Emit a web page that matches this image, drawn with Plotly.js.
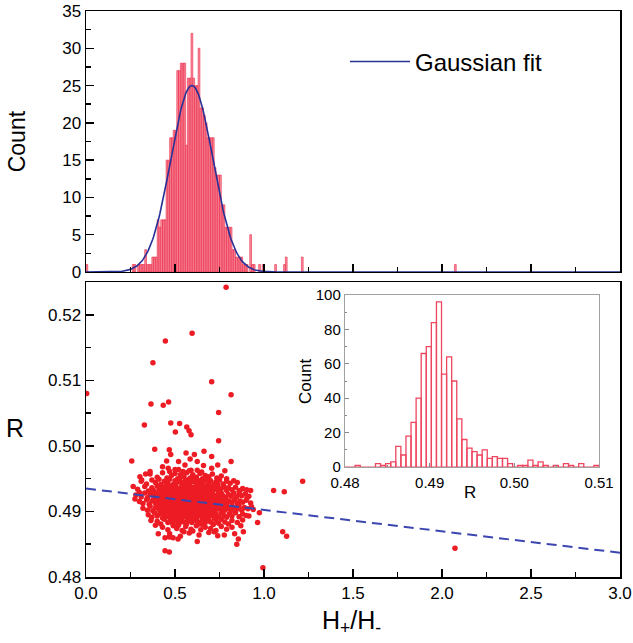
<!DOCTYPE html>
<html>
<head>
<meta charset="utf-8">
<script src="https://cdn.plot.ly/plotly-3.0.1.min.js"></script>
<style>html,body{margin:0;padding:0;background:#fff;}#chart{width:633px;height:643px;}</style>
</head>
<body>
<div id="chart"></div>
<script>
// ---------- Top panel: histogram of H+/H- ----------
const topBinWidth = 0.01;
const topBinLeft = [0.00,0.26,0.27,0.29,0.30,0.31,0.32,0.33,0.34,0.35,0.36,0.37,0.38,0.39,
  0.40,0.41,0.42,0.43,0.44,0.45,0.46,0.47,0.48,0.49,0.50,
  0.51,0.52,0.53,0.54,0.55,0.56,0.57,0.58,0.59,0.60,0.61,0.62,0.63,0.64,0.65,0.66,0.67,0.68,0.69,0.70,
  0.71,0.72,0.73,0.74,0.75,0.76,0.77,0.78,0.79,0.80,0.81,0.82,0.83,0.84,0.85,0.86,0.87,0.88,0.89,0.90,
  0.92,0.93,0.94,0.97,0.99,1.06,1.11,1.12,1.21,2.07];
const topCounts = [1,1,1,1,1,1,1,3,1,1,1,2,2,2,
  7,6,7,7,7,15,15,18,18,19,19,
  27,27,28,28,28,17,26,26,32,26,25,25,30,22,22,21,20,18,18,18,
  18,14,13,13,13,9,9,6,6,6,6,3,3,2,2,2,2,1,1,1,
  5,1,1,1,1,1,1,2,2,1];

// Gaussian fit parameters
const gaussCenter = 0.595;
const gaussSigma = 0.118;
const gaussAmp = 25;

// ---------- Bottom panel: R vs H+/H- ----------
const scatterPts = [
 // outliers
 [0.787,0.5242],[0.596,0.5172],[0.446,0.5160],[0.376,0.5127],[0.706,0.5098],[0.004,0.5080],
 [0.365,0.5064],[0.464,0.5067],[0.434,0.5062],[0.815,0.5078],[0.745,0.5051],[0.328,0.5032],
 [0.476,0.5035],[0.526,0.5034],[0.566,0.5029],[0.579,0.5023],[0.590,0.5017],[0.502,0.5021],
 [0.745,0.5008],[0.386,0.4995],[0.257,0.4977],[0.815,0.4976],[1.217,0.4946],[1.054,0.4932],
 [1.114,0.4930],[0.865,0.4932],[0.903,0.4933],[0.925,0.4932],[0.275,0.4919],[0.974,0.4898],
 [0.964,0.4883],[1.105,0.4869],[1.127,0.4862],[0.884,0.4869],[0.856,0.4858],[0.847,0.4850],
 [0.994,0.4814],[0.444,0.4840],[0.468,0.4838],[0.444,0.4860],[0.468,0.4861],[0.489,0.4860],
 [0.406,0.4866],[0.517,0.4858],[0.625,0.4854],[0.777,0.4864],[2.073,0.4844],
 // upper scattered part of the cloud
 [0.468,0.4994],[0.476,0.4987],[0.562,0.4989],[0.609,0.4987],[0.663,0.4992],[0.706,0.4984],
 [0.520,0.4976],[0.556,0.4971],[0.453,0.4977],[0.462,0.4966],[0.706,0.4966],[0.625,0.4976],
 [0.360,0.4961],[0.303,0.4953],[0.313,0.4948],[0.740,0.4971],[0.585,0.4980],[0.660,0.4970],
 [0.500,0.4964],[0.545,0.4961],[0.590,0.4963],[0.650,0.4960],[0.430,0.4968],[0.780,0.4962],
 [0.335,0.4957],[0.850,0.4944],[0.905,0.4921],[0.940,0.4903],[0.915,0.4893],[0.365,0.4886],
 [0.390,0.4879],[0.870,0.4878],[0.835,0.4866],[0.300,0.4929],[0.265,0.4938],
 // 0.4950-0.4960
 [0.36,0.4957],[0.40,0.4952],[0.43,0.4959],[0.455,0.4951],[0.48,0.4955],[0.50,0.4958],[0.515,0.4950],
 [0.53,0.4956],[0.55,0.4953],[0.565,0.4959],[0.585,0.4951],[0.60,0.4956],[0.62,0.4952],[0.64,0.4958],
 [0.655,0.4950],[0.67,0.4955],[0.69,0.4953],[0.71,0.4957],[0.735,0.4951],[0.76,0.4954],[0.79,0.4950],
 [0.47,0.4961],[0.58,0.4962],[0.625,0.4963],[0.52,0.4964],
 // 0.4940-0.4950
 [0.31,0.4946],[0.34,0.4942],[0.37,0.4948],[0.39,0.4944],[0.41,0.4949],[0.42,0.4941],[0.44,0.4946],
 [0.46,0.4943],[0.47,0.4949],[0.49,0.4941],[0.50,0.4947],[0.51,0.4944],[0.525,0.4949],[0.54,0.4942],
 [0.555,0.4946],[0.57,0.4948],[0.58,0.4941],[0.595,0.4945],[0.61,0.4949],[0.62,0.4943],[0.635,0.4947],
 [0.65,0.4941],[0.66,0.4946],[0.675,0.4949],[0.69,0.4943],[0.70,0.4947],[0.72,0.4941],[0.73,0.4945],
 [0.75,0.4948],[0.77,0.4942],[0.79,0.4946],[0.81,0.4943],[0.83,0.4947],[0.45,0.4940],[0.56,0.4940],
 [0.68,0.4940],[0.60,0.4949],[0.53,0.4945],[0.64,0.4944],[0.74,0.4941],
 // 0.4930-0.4940
 [0.29,0.4934],[0.33,0.4938],[0.35,0.4931],[0.37,0.4936],[0.38,0.4932],[0.40,0.4939],[0.41,0.4933],
 [0.43,0.4937],[0.44,0.4930],[0.45,0.4935],[0.465,0.4939],[0.475,0.4932],[0.485,0.4936],[0.495,0.4931],
 [0.505,0.4938],[0.515,0.4934],[0.525,0.4930],[0.535,0.4937],[0.545,0.4933],[0.555,0.4939],[0.565,0.4931],
 [0.575,0.4935],[0.585,0.4938],[0.595,0.4932],[0.605,0.4936],[0.615,0.4930],[0.625,0.4939],[0.635,0.4933],
 [0.645,0.4937],[0.655,0.4931],[0.665,0.4935],[0.675,0.4938],[0.685,0.4932],[0.695,0.4936],[0.705,0.4930],
 [0.715,0.4939],[0.725,0.4934],[0.735,0.4937],[0.745,0.4931],[0.76,0.4935],[0.775,0.4938],[0.79,0.4932],
 [0.80,0.4936],[0.82,0.4933],[0.84,0.4937],[0.86,0.4931],[0.88,0.4935],[0.47,0.4934],[0.53,0.4935],
 [0.59,0.4934],[0.63,0.4935],[0.67,0.4933],[0.71,0.4935],[0.55,0.4932],[0.61,0.4937],
 // 0.4920-0.4930
 [0.28,0.4925],[0.31,0.4922],[0.33,0.4928],[0.345,0.4921],[0.36,0.4926],[0.375,0.4929],[0.385,0.4923],
 [0.395,0.4927],[0.405,0.4921],[0.415,0.4925],[0.425,0.4929],[0.435,0.4922],[0.445,0.4926],[0.455,0.4920],
 [0.46,0.4928],[0.47,0.4924],[0.48,0.4921],[0.49,0.4927],[0.50,0.4923],[0.51,0.4929],[0.52,0.4925],
 [0.53,0.4921],[0.54,0.4927],[0.55,0.4923],[0.56,0.4929],[0.57,0.4925],[0.58,0.4920],[0.59,0.4927],
 [0.60,0.4923],[0.61,0.4929],[0.62,0.4925],[0.63,0.4921],[0.64,0.4927],[0.65,0.4923],[0.66,0.4929],
 [0.67,0.4925],[0.68,0.4921],[0.69,0.4927],[0.70,0.4923],[0.71,0.4928],[0.72,0.4924],[0.73,0.4920],
 [0.74,0.4926],[0.75,0.4922],[0.76,0.4928],[0.77,0.4924],[0.785,0.4921],[0.80,0.4926],[0.815,0.4923],
 [0.83,0.4928],[0.845,0.4922],[0.86,0.4926],[0.875,0.4924],[0.895,0.4927],[0.915,0.4923],[0.515,0.4922],
 [0.565,0.4926],[0.615,0.4924],[0.665,0.4922],[0.545,0.4925],[0.595,0.4924],[0.645,0.4926],[0.695,0.4925],
 [0.435,0.4926],[0.745,0.4929],
 // 0.4910-0.4920
 [0.30,0.4915],[0.32,0.4912],[0.34,0.4918],[0.355,0.4911],[0.37,0.4916],[0.38,0.4919],[0.39,0.4913],
 [0.40,0.4917],[0.41,0.4910],[0.42,0.4915],[0.43,0.4919],[0.44,0.4912],[0.45,0.4916],[0.46,0.4911],
 [0.47,0.4918],[0.48,0.4914],[0.49,0.4911],[0.50,0.4917],[0.51,0.4913],[0.52,0.4919],[0.53,0.4915],
 [0.54,0.4911],[0.55,0.4917],[0.56,0.4913],[0.57,0.4919],[0.58,0.4915],[0.59,0.4910],[0.60,0.4917],
 [0.61,0.4913],[0.62,0.4919],[0.63,0.4915],[0.64,0.4911],[0.65,0.4917],[0.66,0.4913],[0.67,0.4919],
 [0.68,0.4915],[0.69,0.4911],[0.70,0.4917],[0.71,0.4913],[0.72,0.4918],[0.73,0.4914],[0.74,0.4910],
 [0.75,0.4916],[0.76,0.4912],[0.77,0.4918],[0.78,0.4914],[0.79,0.4911],[0.805,0.4916],[0.82,0.4913],
 [0.835,0.4918],[0.85,0.4912],[0.865,0.4916],[0.88,0.4914],[0.90,0.4917],[0.925,0.4913],[0.505,0.4914],
 [0.555,0.4915],[0.605,0.4914],[0.655,0.4915],[0.705,0.4914],[0.525,0.4912],[0.575,0.4916],[0.625,0.4912],
 [0.675,0.4916],[0.455,0.4914],[0.485,0.4916],[0.535,0.4917],[0.585,0.4912],[0.635,0.4918],[0.725,0.4915],
 // 0.4900-0.4910
 [0.32,0.4905],[0.345,0.4902],[0.36,0.4908],[0.375,0.4901],[0.39,0.4906],[0.40,0.4909],[0.41,0.4903],
 [0.42,0.4907],[0.43,0.4900],[0.44,0.4905],[0.45,0.4909],[0.46,0.4902],[0.47,0.4906],[0.48,0.4901],
 [0.49,0.4908],[0.50,0.4904],[0.51,0.4901],[0.52,0.4907],[0.53,0.4903],[0.54,0.4909],[0.55,0.4905],
 [0.56,0.4901],[0.57,0.4907],[0.58,0.4903],[0.59,0.4909],[0.60,0.4905],[0.61,0.4900],[0.62,0.4907],
 [0.63,0.4903],[0.64,0.4909],[0.65,0.4905],[0.66,0.4901],[0.67,0.4907],[0.68,0.4903],[0.69,0.4909],
 [0.70,0.4905],[0.71,0.4901],[0.72,0.4907],[0.73,0.4903],[0.74,0.4908],[0.75,0.4904],[0.76,0.4900],
 [0.77,0.4906],[0.78,0.4902],[0.79,0.4908],[0.80,0.4904],[0.815,0.4901],[0.83,0.4906],[0.845,0.4903],
 [0.86,0.4908],[0.875,0.4902],[0.89,0.4906],[0.91,0.4904],[0.93,0.4907],[0.515,0.4905],[0.565,0.4904],
 [0.615,0.4905],[0.665,0.4904],[0.715,0.4905],[0.545,0.4902],[0.595,0.4906],[0.645,0.4902],[0.695,0.4906],
 [0.465,0.4904],[0.495,0.4906],[0.575,0.4901],[0.625,0.4908],[0.675,0.4902],[0.735,0.4906],[0.425,0.4904],
 // 0.4890-0.4900
 [0.35,0.4895],[0.37,0.4891],[0.385,0.4898],[0.40,0.4893],[0.415,0.4897],[0.43,0.4890],[0.44,0.4895],
 [0.455,0.4899],[0.465,0.4892],[0.475,0.4896],[0.49,0.4891],[0.50,0.4898],[0.51,0.4894],[0.52,0.4890],
 [0.53,0.4897],[0.54,0.4893],[0.55,0.4899],[0.56,0.4895],[0.57,0.4891],[0.58,0.4897],[0.59,0.4893],
 [0.60,0.4899],[0.61,0.4895],[0.62,0.4890],[0.63,0.4897],[0.64,0.4893],[0.65,0.4899],[0.66,0.4895],
 [0.67,0.4891],[0.68,0.4897],[0.69,0.4893],[0.70,0.4898],[0.71,0.4894],[0.72,0.4890],[0.73,0.4896],
 [0.745,0.4892],[0.76,0.4898],[0.775,0.4894],[0.79,0.4891],[0.805,0.4896],[0.82,0.4893],[0.84,0.4898],
 [0.86,0.4892],[0.88,0.4896],[0.90,0.4894],[0.525,0.4894],[0.575,0.4895],[0.625,0.4894],[0.675,0.4895],
 [0.555,0.4892],[0.605,0.4896],[0.655,0.4892],[0.505,0.4896],[0.705,0.4895],[0.445,0.4893],
 // 0.4880-0.4890
 [0.40,0.4885],[0.42,0.4881],[0.44,0.4888],[0.46,0.4883],[0.475,0.4887],[0.49,0.4880],[0.505,0.4886],
 [0.52,0.4882],[0.535,0.4889],[0.55,0.4884],[0.565,0.4881],[0.58,0.4887],[0.595,0.4883],[0.61,0.4889],
 [0.625,0.4885],[0.64,0.4881],[0.655,0.4887],[0.67,0.4883],[0.685,0.4889],[0.70,0.4884],[0.715,0.4880],
 [0.73,0.4886],[0.745,0.4882],[0.76,0.4888],[0.78,0.4884],[0.80,0.4881],[0.82,0.4886],[0.85,0.4883],
 [0.88,0.4887],[0.57,0.4885],[0.63,0.4884],[0.53,0.4884],[0.69,0.4886],[0.48,0.4884],[0.60,0.4886],
 // 0.4870-0.4880
 [0.43,0.4876],[0.46,0.4872],[0.49,0.4878],[0.51,0.4874],[0.54,0.4871],[0.56,0.4877],[0.59,0.4873],
 [0.62,0.4878],[0.645,0.4872],[0.67,0.4876],[0.70,0.4874],[0.73,0.4871],[0.76,0.4877],[0.79,0.4873],
 [0.82,0.4876],[0.60,0.4870],[0.52,0.4879],[0.66,0.4879],
 // 0.4860-0.4870
 [0.47,0.4866],[0.53,0.4862],[0.58,0.4867],[0.635,0.4864],[0.69,0.4868],[0.74,0.4863],[0.55,0.4869],[0.72,0.4869]
];
const trendX = [0, 3];
const trendY = [0.4935, 0.4837];

// ---------- Inset: histogram of R ----------
const insetBinStart = 0.48;
const insetBinWidth = 0.0006;
const insetCounts = [0,0,1,0,0,0,2,1,2,3,12,7,18,26,40,66,70,84,96,54,
  64,50,28,16,11,9,7,10,5,6,5,5,2,0,1,1,4,1,3,1,
  0,1,0,2,1,0,2,0,0,1];

// ---------- build ----------
const topX = topBinLeft.map(v => v + topBinWidth/2);
const gx = [], gy = [];
for (let i = 0; i <= 600; i++) {
  const x = i * 0.005;
  gx.push(x);
  gy.push(gaussAmp * Math.exp(-Math.pow(x - gaussCenter, 2) / (2 * gaussSigma * gaussSigma)));
}
const insetX = insetCounts.map((c, i) => insetBinStart + insetBinWidth * (i + 0.5));

const FONT = 'Liberation Sans, Arial, Helvetica, sans-serif';
const red = 'rgb(237,28,36)';

const traces = [
  {type:'bar', x: topX, y: topCounts, width: topBinWidth, xaxis:'x2', yaxis:'y2',
   marker:{color:'rgba(244,115,135,0.8)', line:{color:'rgb(236,40,70)', width:0.6}},
   showlegend:false, hoverinfo:'skip'},
  {type:'scatter', mode:'lines', x: gx, y: gy, xaxis:'x2', yaxis:'y2', name:'Gaussian fit',
   line:{color:'rgb(40,50,150)', width:1.6}, showlegend:true},
  {type:'scatter', mode:'markers', x: scatterPts.map(p=>p[0]), y: scatterPts.map(p=>p[1]),
   xaxis:'x', yaxis:'y', marker:{color:red, size:5.5}, showlegend:false, hoverinfo:'skip'},
  {type:'scatter', mode:'lines', x: trendX, y: trendY, xaxis:'x', yaxis:'y',
   line:{color:'rgb(60,70,175)', width:2, dash:'10px,6px'}, showlegend:false},
  {type:'bar', x: insetX, y: insetCounts, width: insetBinWidth, xaxis:'x3', yaxis:'y3',
   marker:{color:'rgba(255,255,255,0)', line:{color:'rgb(238,70,95)', width:1.3}},
   showlegend:false, hoverinfo:'skip'}
];

const mainAxis = {
  showline:true, mirror:true, linecolor:'black', linewidth:1.5,
  ticks:'inside', ticklen:8, tickwidth:1.5, tickcolor:'black',
  showgrid:false, zeroline:false,
  tickfont:{family:FONT, size:17, color:'black'}
};

const layout = {
  width:633, height:643,
  margin:{l:86, r:13, t:11, b:66, pad:0},
  paper_bgcolor:'white', plot_bgcolor:'white',
  font:{family:FONT, color:'black'},
  bargap:0,
  xaxis: Object.assign({}, mainAxis, {domain:[0,1], anchor:'y', range:[0,3], dtick:0.5, tick0:0,
    tickformat:'.1f', minor:{dtick:0.25, ticks:'inside', ticklen:5, tickcolor:'black', tickwidth:1.5}}),
  yaxis: Object.assign({}, mainAxis, {domain:[0,0.5212], anchor:'x', range:[0.48,0.525], dtick:0.01, tick0:0.48,
    tickformat:'.2f', minor:{dtick:0.005, ticks:'inside', ticklen:5, tickcolor:'black', tickwidth:1.5}}),
  xaxis2: Object.assign({}, mainAxis, {domain:[0,1], anchor:'y2', range:[0,3], dtick:0.5, tick0:0,
    showticklabels:false, minor:{dtick:0.25, ticks:'inside', ticklen:5, tickcolor:'black', tickwidth:1.5}}),
  yaxis2: Object.assign({}, mainAxis, {domain:[0.5389,1], anchor:'x2', range:[0,35], dtick:5, tick0:0,
    minor:{dtick:2.5, ticks:'inside', ticklen:5, tickcolor:'black', tickwidth:1.5}}),
  xaxis3: {domain:[0.485,0.9607], anchor:'y3', range:[0.48,0.51], dtick:0.01, tick0:0.48, tickformat:'.2f',
    showline:true, mirror:true, linecolor:'#a0a0a0', linewidth:1.2, ticks:'inside', ticklen:4, tickcolor:'#888',
    minor:{dtick:0.005, ticks:'inside', ticklen:2, tickcolor:'#888'}, ticklabelstandoff:2,
    showgrid:false, zeroline:false, tickfont:{family:FONT, size:15, color:'black'}},
  yaxis3: {domain:[0.1943,0.4982], anchor:'x3', range:[0,100], dtick:20, tick0:0,
    showline:true, mirror:true, linecolor:'#a0a0a0', linewidth:1.2, ticks:'inside', ticklen:4, tickcolor:'#888',
    minor:{dtick:10, ticks:'inside', ticklen:2, tickcolor:'#888'},
    showgrid:false, zeroline:false, tickfont:{family:FONT, size:15, color:'black'}},
  showlegend:true,
  legend:{x:0.485, y:0.91, xanchor:'left', yanchor:'middle', bgcolor:'rgba(0,0,0,0)',
    font:{family:FONT, size:24, color:'black'}, itemwidth:60},
  annotations:[
    {text:'Count', xref:'paper', yref:'paper', x:-0.129, y:0.770, textangle:-90, showarrow:false,
     font:{family:FONT, size:23, color:'black'}, xanchor:'center', yanchor:'middle'},
    {text:'R', xref:'paper', yref:'paper', x:-0.133, y:0.263, showarrow:false,
     font:{family:FONT, size:25, color:'black'}, xanchor:'center', yanchor:'middle'},
    {text:'H<sub>+</sub>/H<sub>-</sub>', xref:'paper', yref:'paper', x:0.498, y:-0.0795, showarrow:false,
     font:{family:FONT, size:25, color:'black'}, xanchor:'center', yanchor:'middle'},
    {text:'Count', xref:'paper', yref:'paper', x:0.41, y:0.346, textangle:-90, showarrow:false,
     font:{family:FONT, size:17, color:'black'}, xanchor:'center', yanchor:'middle'},
    {text:'R', xref:'paper', yref:'paper', x:0.719, y:0.150, showarrow:false,
     font:{family:FONT, size:17, color:'black'}, xanchor:'center', yanchor:'middle'}
  ]
};

Plotly.newPlot('chart', traces, layout, {staticPlot:true, displayModeBar:false});
</script>
</body>
</html>
